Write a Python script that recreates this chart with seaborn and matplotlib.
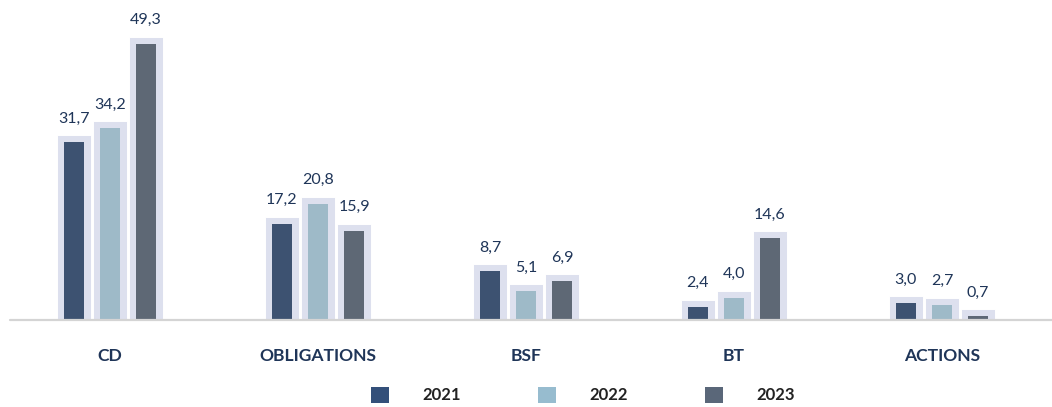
import pandas as pd
import seaborn as sns
import matplotlib.pyplot as plt
from matplotlib.patches import Patch

categories = ['CD', 'OBLIGATIONS', 'BSF', 'BT', 'ACTIONS']
years = ['2021', '2022', '2023']
v2021 = [31.7, 17.2, 8.7, 2.4, 3.0]
v2022 = [34.2, 20.8, 5.1, 4.0, 2.7]
v2023 = [49.3, 15.9, 6.9, 14.6, 0.7]

colors = ['#34507a', '#97bccf', '#5a6779']
halo = '#dde0ee'
text_col = '#1f3558'

df = pd.DataFrame({
    'cat': categories * 3,
    'year': [y for y in years for _ in categories],
    'value': v2021 + v2022 + v2023,
})

sns.set_theme(style='white')
plt.rcParams['font.family'] = ['Lato', 'DejaVu Sans']

fig = plt.figure(figsize=(10.52, 4.07), dpi=100)
ax = fig.add_axes([0, 87 / 407, 1, 320 / 407])

# light halo behind each bar (thick edge, bottom part clipped by the axes)
sns.barplot(data=df, x='cat', y='value', hue='year', order=categories,
            hue_order=years, palette=[halo] * 3, width=0.52, gap=0.47,
            edgecolor=halo, linewidth=9.4, legend=False, ax=ax)
n_halo = len(ax.containers)
sns.barplot(data=df, x='cat', y='value', hue='year', order=categories,
            hue_order=years, palette=colors, width=0.52, gap=0.47,
            linewidth=0, legend=False, ax=ax)

for cont in ax.containers[n_halo:]:
    vals = cont.datavalues
    ax.bar_label(cont, labels=[f'{v:.1f}'.replace('.', ',') for v in vals],
                 padding=12, fontsize=11.5, color=text_col)

ax.set_xlim(-110 / 208, (1052 - 110) / 208)
ax.set_ylim(0, 320 / 5.6)
ax.set_xlabel('')
ax.set_ylabel('')
ax.set_yticks([])
ax.set_xticks(range(len(categories)))
ax.set_xticklabels(categories, fontsize=12.6, fontweight='bold', color=text_col)
ax.tick_params(axis='x', length=0, pad=20)
for s in ax.spines.values():
    s.set_visible(False)
ax.axhline(0, xmin=10 / 1052, xmax=1, color='#d4d4d4', lw=1.6, clip_on=False, zorder=5)

handles = [Patch(facecolor=c, edgecolor='none') for c in colors]
fig.legend(handles, years, loc='center', bbox_to_anchor=(583 / 1052, 12 / 407),
           ncol=3, frameon=False, handlelength=1.1, handleheight=1.1,
           handletextpad=2.0, columnspacing=4.6,
           prop={'family': 'Lato', 'weight': 'bold', 'size': 12})
for t in fig.legends[0].get_texts():
    t.set_color('#222222')

fig.savefig('out.png', dpi=100)
